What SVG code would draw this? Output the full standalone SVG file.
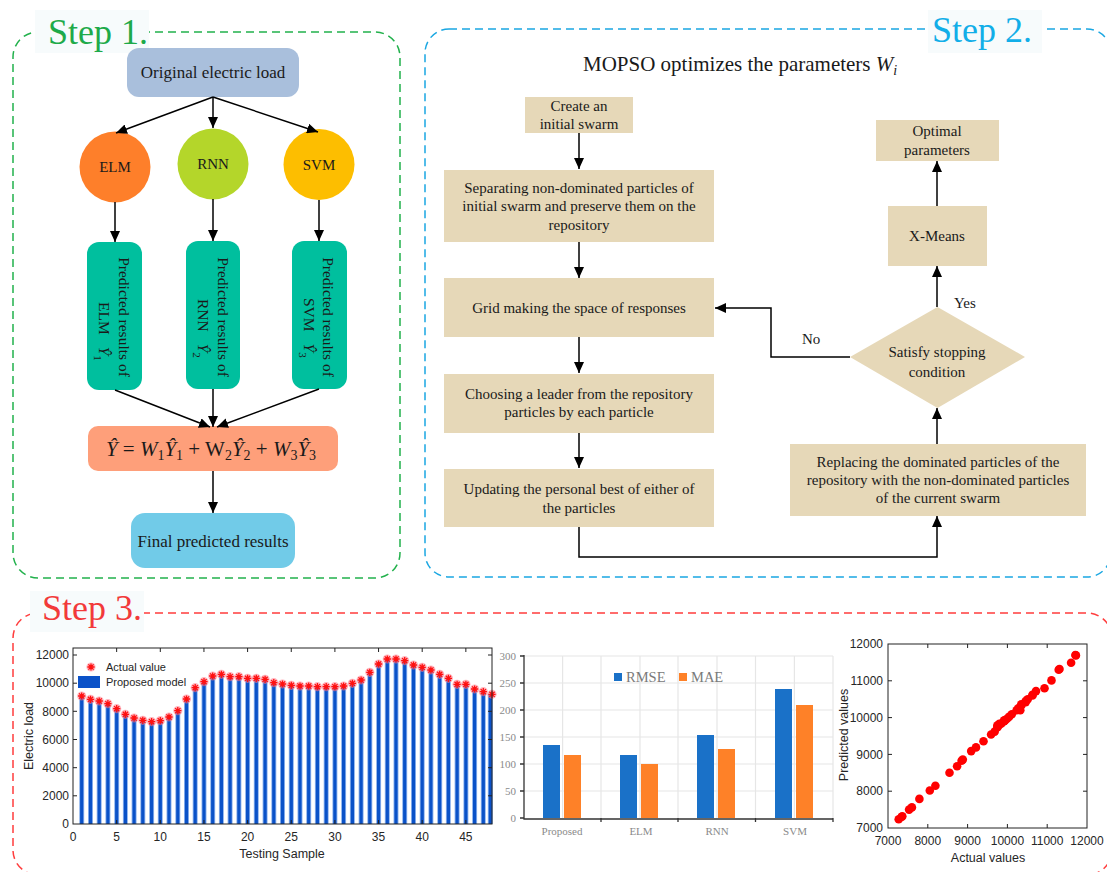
<svg xmlns="http://www.w3.org/2000/svg" xmlns:xlink="http://www.w3.org/1999/xlink" width="1107" height="872" viewBox="0 0 1107 872">
<defs>
<style>
.serif{font-family:"Liberation Serif","Times New Roman",serif;fill:#1a1a1a}
.sans{font-family:"Liberation Sans",Arial,sans-serif;fill:#262626}
.flow{fill:#e6d8b8}
.ft{font-family:"Liberation Serif","Times New Roman",serif;font-size:15px;fill:#1a1a1a;text-anchor:middle}
.conn{stroke:#000;stroke-width:1.5;fill:none}
.arr{marker-end:url(#ah)}
.lblbg{fill:#f7fbfc}
.grid{stroke:#e6e6e6;stroke-width:1.2;fill:none}
.ax{stroke:#222;stroke-width:1;fill:none}
.g2{font-family:"Liberation Serif","Times New Roman",serif;font-size:11px;fill:#8a8a8a}
</style>
<marker id="ah" markerUnits="userSpaceOnUse" markerWidth="11" markerHeight="10" refX="11" refY="5" orient="auto">
<path d="M0,0 L11,5 L0,10 z" fill="#000"/>
</marker>
<g id="st">
<circle r="4.6" fill="#ff7a8a" opacity="0.55"/>
<path d="M-3.6,0H3.6M0,-3.6V3.6M-2.6,-2.6L2.6,2.6M-2.6,2.6L2.6,-2.6" stroke="#ff1010" stroke-width="1.3"/>
</g>
</defs>
<rect width="1107" height="872" fill="#ffffff"/>

<!-- Frames -->
<g id="step1-frame">
<rect x="13" y="32" width="387" height="546" rx="25" fill="none" stroke="#22b14c" stroke-width="1.5" stroke-dasharray="8,5"/>
<rect class="lblbg" x="35" y="10" width="114" height="43"/>
<text x="48" y="44" font-family="Liberation Serif,serif" font-size="36" fill="#1eaa4a">Step 1.</text>
</g>
<g id="step2-frame">
<rect x="425" y="29" width="686" height="548" rx="24" fill="none" stroke="#1aa7e2" stroke-width="1.5" stroke-dasharray="8,5"/>
<rect class="lblbg" x="928" y="10" width="114" height="43"/>
<text x="932" y="42" font-family="Liberation Serif,serif" font-size="36" fill="#12aee8">Step 2.</text>
</g>
<g id="step3-frame">
<rect x="13" y="613" width="1099" height="262" rx="25" fill="none" stroke="#ff3d3d" stroke-width="1.5" stroke-dasharray="8,5"/>
<rect class="lblbg" x="30" y="591" width="114" height="41"/>
<text x="42" y="620" font-family="Liberation Serif,serif" font-size="36" fill="#f23a3a">Step 3.</text>
</g>

<!-- Step 1 nodes -->
<g id="orig">
<rect x="127" y="48" width="172" height="49" rx="12" fill="#a9bfdc"/>
<text class="serif" x="213" y="78" font-size="17" text-anchor="middle">Original electric load</text>
</g>
<g id="elm">
<circle cx="115" cy="167" r="35.5" fill="#fe7f2a"/>
<text class="serif" x="115" y="172" font-size="15" text-anchor="middle">ELM</text>
</g>
<g id="rnn">
<circle cx="213" cy="164" r="35.5" fill="#b4d62a"/>
<text class="serif" x="213" y="169" font-size="15" text-anchor="middle">RNN</text>
</g>
<g id="svm">
<circle cx="319" cy="164.5" r="35.5" fill="#fdbe00"/>
<text class="serif" x="319" y="169.5" font-size="15" text-anchor="middle">SVM</text>
</g>
<g id="pred-elm">
<rect x="87" y="242" width="55" height="148" rx="12" fill="#00bf9e"/>
<text class="serif" font-size="15.5" text-anchor="middle" transform="translate(119,317) rotate(90)">Predicted results of</text>
<text class="serif" font-size="15.5" transform="translate(99,302) rotate(90)">ELM<tspan font-style="italic" dx="12">Ŷ</tspan><tspan font-size="11" dy="5">1</tspan></text>
</g>
<g id="pred-rnn">
<rect x="186" y="241" width="54" height="148" rx="12" fill="#00bf9e"/>
<text class="serif" font-size="15.5" text-anchor="middle" transform="translate(218,317) rotate(90)">Predicted results of</text>
<text class="serif" font-size="15.5" transform="translate(198,299) rotate(90)">RNN<tspan font-style="italic" dx="12">Ŷ</tspan><tspan font-size="11" dy="5">2</tspan></text>
</g>
<g id="pred-svm">
<rect x="292" y="241" width="55" height="148" rx="12" fill="#00bf9e"/>
<text class="serif" font-size="15.5" text-anchor="middle" transform="translate(323,317) rotate(90)">Predicted results of</text>
<text class="serif" font-size="15.5" transform="translate(304,298) rotate(90)">SVM<tspan font-style="italic" dx="12">Ŷ</tspan><tspan font-size="11" dy="5">3</tspan></text>
</g>
<g id="formula">
<rect x="88" y="426" width="250" height="45" rx="10" fill="#fe9f7a"/>
<text class="serif" x="211" y="456" font-size="21" text-anchor="middle"><tspan font-style="italic">Ŷ</tspan> = <tspan font-style="italic">W</tspan><tspan font-size="14" dy="4">1</tspan><tspan font-style="italic" dy="-4">Ŷ</tspan><tspan font-size="14" dy="4">1</tspan><tspan dy="-4"> + </tspan><tspan>W</tspan><tspan font-size="14" dy="4">2</tspan><tspan font-style="italic" dy="-4">Ŷ</tspan><tspan font-size="14" dy="4">2</tspan><tspan dy="-4"> + </tspan><tspan font-style="italic">W</tspan><tspan font-size="14" dy="4">3</tspan><tspan font-style="italic" dy="-4">Ŷ</tspan><tspan font-size="14" dy="4">3</tspan></text>
</g>
<g id="final">
<rect x="131" y="513" width="164" height="55" rx="14" fill="#71cbe8"/>
<text class="serif" x="213" y="547" font-size="17" text-anchor="middle">Final predicted results</text>
</g>

<!-- Step 2 nodes -->
<g id="title2">
<text class="serif" x="583" y="71" font-size="21">MOPSO optimizes the parameters <tspan font-style="italic">W</tspan><tspan font-style="italic" font-size="14" dy="4">i</tspan></text>
</g>
<g id="create">
<rect class="flow" x="525" y="97" width="108" height="36"/>
<text class="ft" x="579" y="111">Create an</text>
<text class="ft" x="579" y="129">initial swarm</text>
</g>
<g id="separate">
<rect class="flow" x="444" y="170" width="270" height="72"/>
<text class="ft" x="579" y="193">Separating non-dominated particles of</text>
<text class="ft" x="579" y="211">initial swarm and preserve them on the</text>
<text class="ft" x="579" y="230">repository</text>
</g>
<g id="grid">
<rect class="flow" x="444" y="278" width="270" height="59"/>
<text class="ft" x="579" y="313">Grid making the space of responses</text>
</g>
<g id="choose">
<rect class="flow" x="444" y="374" width="270" height="59"/>
<text class="ft" x="579" y="399">Choosing a leader from the repository</text>
<text class="ft" x="579" y="417">particles by each particle</text>
</g>
<g id="update">
<rect class="flow" x="444" y="469" width="270" height="58"/>
<text class="ft" x="579" y="494">Updating the personal best of either of</text>
<text class="ft" x="579" y="513">the particles</text>
</g>
<g id="replace">
<rect class="flow" x="790" y="444" width="296" height="72"/>
<text class="ft" x="938" y="467">Replacing the dominated particles of the</text>
<text class="ft" x="938" y="485">repository with the non-dominated particles</text>
<text class="ft" x="938" y="503">of the current swarm</text>
</g>
<g id="decision">
<polygon class="flow" points="937.5,307 1025,357 937.5,408 850,357"/>
<text class="ft" x="937" y="357">Satisfy stopping</text>
<text class="ft" x="937" y="377">condition</text>
</g>
<g id="xmeans">
<rect class="flow" x="888" y="206" width="99" height="60"/>
<text class="ft" x="937" y="241">X-Means</text>
</g>
<g id="optimal">
<rect class="flow" x="876" y="120" width="123" height="41"/>
<text class="ft" x="937" y="136">Optimal</text>
<text class="ft" x="937" y="155">parameters</text>
</g>

<!-- Connectors -->
<g id="connectors">
<path class="conn arr" d="M213,97 L116,133"/>
<path class="conn arr" d="M213,97 L213,128"/>
<path class="conn arr" d="M213,97 L318,132"/>
<path class="conn arr" d="M115,202 L115,242"/>
<path class="conn arr" d="M213,199 L213,241"/>
<path class="conn arr" d="M319,200 L319,241"/>
<path class="conn arr" d="M115,390 L210,427"/>
<path class="conn arr" d="M213,389 L213,427"/>
<path class="conn arr" d="M319,389 L217,427"/>
<path class="conn arr" d="M213,471 L213,513"/>
<path class="conn arr" d="M579,133 L579,169"/>
<path class="conn arr" d="M579,242 L579,278"/>
<path class="conn arr" d="M579,337 L579,373"/>
<path class="conn arr" d="M579,433 L579,468"/>
<path class="conn arr" d="M579,527 L579,557 L937,557 L937,516"/>
<path class="conn arr" d="M937,444 L937,408"/>
<path class="conn arr" d="M850,357 L771,357 L771,308 L715,308"/>
<path class="conn arr" d="M937,307 L937,266"/>
<path class="conn arr" d="M937,206 L937,161"/>
<text class="serif" x="802" y="344" font-size="15">No</text>
<text class="serif" x="954" y="308" font-size="15">Yes</text>
</g>

<!-- Chart 1: stem plot -->
<g id="chart1">
<path d="M81.7 824V696M90.5 824V699.3M99.2 824V701M107.9 824V703.7M116.7 824V708.7M125.4 824V714.3M134.1 824V718M142.8 824V720.3M151.6 824V721.7M160.3 824V720.7M169 824V717M177.8 824V710.7M186.5 824V699M195.2 824V687.7M204 824V681.7M212.7 824V676M221.4 824V674.3M230.1 824V676.7M238.9 824V676.7M247.6 824V678.3M256.3 824V678.3M265.1 824V679.3M273.8 824V682.7M282.5 824V684M291.3 824V685.3M300 824V686M308.7 824V686M317.4 824V686.7M326.2 824V686.7M334.9 824V686.7M343.6 824V686M352.4 824V683.3M361.1 824V680M369.8 824V672.3M378.6 824V664M387.3 824V659M396 824V659M404.7 824V660.7M413.5 824V665M422.2 824V667.3M430.9 824V670M439.7 824V674.3M448.4 824V678.3M457.1 824V684.3M465.9 824V684.3M474.6 824V689M483.3 824V691.7M490.3 824V694.3" stroke="#8db3ee" stroke-width="5" fill="none"/>
<path d="M81.7 824V696M90.5 824V699.3M99.2 824V701M107.9 824V703.7M116.7 824V708.7M125.4 824V714.3M134.1 824V718M142.8 824V720.3M151.6 824V721.7M160.3 824V720.7M169 824V717M177.8 824V710.7M186.5 824V699M195.2 824V687.7M204 824V681.7M212.7 824V676M221.4 824V674.3M230.1 824V676.7M238.9 824V676.7M247.6 824V678.3M256.3 824V678.3M265.1 824V679.3M273.8 824V682.7M282.5 824V684M291.3 824V685.3M300 824V686M308.7 824V686M317.4 824V686.7M326.2 824V686.7M334.9 824V686.7M343.6 824V686M352.4 824V683.3M361.1 824V680M369.8 824V672.3M378.6 824V664M387.3 824V659M396 824V659M404.7 824V660.7M413.5 824V665M422.2 824V667.3M430.9 824V670M439.7 824V674.3M448.4 824V678.3M457.1 824V684.3M465.9 824V684.3M474.6 824V689M483.3 824V691.7M490.3 824V694.3" stroke="#0b52c8" stroke-width="3.2" fill="none"/>
<use xlink:href="#st" x="81.7" y="696"/><use xlink:href="#st" x="90.5" y="699.3"/><use xlink:href="#st" x="99.2" y="701"/><use xlink:href="#st" x="107.9" y="703.7"/><use xlink:href="#st" x="116.7" y="708.7"/><use xlink:href="#st" x="125.4" y="714.3"/><use xlink:href="#st" x="134.1" y="718"/><use xlink:href="#st" x="142.8" y="720.3"/><use xlink:href="#st" x="151.6" y="721.7"/><use xlink:href="#st" x="160.3" y="720.7"/><use xlink:href="#st" x="169" y="717"/><use xlink:href="#st" x="177.8" y="710.7"/><use xlink:href="#st" x="186.5" y="699"/><use xlink:href="#st" x="195.2" y="687.7"/><use xlink:href="#st" x="204" y="681.7"/><use xlink:href="#st" x="212.7" y="676"/><use xlink:href="#st" x="221.4" y="674.3"/><use xlink:href="#st" x="230.1" y="676.7"/><use xlink:href="#st" x="238.9" y="676.7"/><use xlink:href="#st" x="247.6" y="678.3"/><use xlink:href="#st" x="256.3" y="678.3"/><use xlink:href="#st" x="265.1" y="679.3"/><use xlink:href="#st" x="273.8" y="682.7"/><use xlink:href="#st" x="282.5" y="684"/><use xlink:href="#st" x="291.3" y="685.3"/><use xlink:href="#st" x="300" y="686"/><use xlink:href="#st" x="308.7" y="686"/><use xlink:href="#st" x="317.4" y="686.7"/><use xlink:href="#st" x="326.2" y="686.7"/><use xlink:href="#st" x="334.9" y="686.7"/><use xlink:href="#st" x="343.6" y="686"/><use xlink:href="#st" x="352.4" y="683.3"/><use xlink:href="#st" x="361.1" y="680"/><use xlink:href="#st" x="369.8" y="672.3"/><use xlink:href="#st" x="378.6" y="664"/><use xlink:href="#st" x="387.3" y="659"/><use xlink:href="#st" x="396" y="659"/><use xlink:href="#st" x="404.7" y="660.7"/><use xlink:href="#st" x="413.5" y="665"/><use xlink:href="#st" x="422.2" y="667.3"/><use xlink:href="#st" x="430.9" y="670"/><use xlink:href="#st" x="439.7" y="674.3"/><use xlink:href="#st" x="448.4" y="678.3"/><use xlink:href="#st" x="457.1" y="684.3"/><use xlink:href="#st" x="465.9" y="684.3"/><use xlink:href="#st" x="474.6" y="689"/><use xlink:href="#st" x="483.3" y="691.7"/><use xlink:href="#st" x="492" y="694.3"/>
<rect class="ax" x="73" y="648" width="419" height="176"/>
<path class="ax" d="M116.65 824v-4M160.3 824v-4M203.95 824v-4M247.6 824v-4M291.25 824v-4M334.9 824v-4M378.55 824v-4M422.2 824v-4M465.85 824v-4M116.65 648v4M160.3 648v4M203.95 648v4M247.6 648v4M291.25 648v4M334.9 648v4M378.55 648v4M422.2 648v4M465.85 648v4M73 795.8h4M73 767.7h4M73 739.5h4M73 711.3h4M73 683.2h4M73 655h4M492 795.8h-4M492 767.7h-4M492 739.5h-4M492 711.3h-4M492 683.2h-4M492 655h-4"/>
<g class="sans" font-size="12" text-anchor="end">
<text x="69" y="828">0</text><text x="69" y="800">2000</text><text x="69" y="772">4000</text><text x="69" y="743.5">6000</text><text x="69" y="715.5">8000</text><text x="69" y="687">10000</text><text x="69" y="659">12000</text>
</g>
<g class="sans" font-size="12" text-anchor="middle">
<text x="73" y="841">0</text><text x="116.65" y="841">5</text><text x="160.3" y="841">10</text><text x="203.95" y="841">15</text><text x="247.6" y="841">20</text><text x="291.25" y="841">25</text><text x="334.9" y="841">30</text><text x="378.55" y="841">35</text><text x="422.2" y="841">40</text><text x="465.85" y="841">45</text>
<text x="282" y="858" font-size="12.5">Testing Sample</text>
<text font-size="12.5" transform="translate(33,736) rotate(-90)">Electric load</text>
</g>
<use xlink:href="#st" x="91" y="667"/>
<text class="sans" x="106" y="671" font-size="11">Actual value</text>
<rect x="78" y="676" width="22" height="12" fill="#0b52c8"/>
<text class="sans" x="106" y="686" font-size="11">Proposed model</text>
</g>

<!-- Chart 2: bar chart -->
<g id="chart2">
<path class="grid" d="M524 656H833M524 683H833M524 710H833M524 737H833M524 764H833M524 791H833M562.6 656V818M601 656V818M640 656V818M678 656V818M717 656V818M755.5 656V818M794.4 656V818M833 656V818"/>
<rect x="543" y="745" width="17" height="73" fill="#1a71c8"/>
<rect x="564" y="755" width="17" height="63" fill="#fe8128"/>
<rect x="620" y="755" width="17" height="63" fill="#1a71c8"/>
<rect x="641" y="764" width="17" height="54" fill="#fe8128"/>
<rect x="697" y="735" width="17" height="83" fill="#1a71c8"/>
<rect x="718" y="749" width="17" height="69" fill="#fe8128"/>
<rect x="775" y="689" width="17" height="129" fill="#1a71c8"/>
<rect x="796" y="705" width="17" height="113" fill="#fe8128"/>
<path d="M524 655V819H833M601 818v4M678 818v4M755.5 818v4M833 818v4M520 656h4M520 683h4M520 710h4M520 737h4M520 764h4M520 791h4M520 818h4" stroke="#333" stroke-width="1.3" fill="none"/>
<g class="g2" text-anchor="end">
<text x="516" y="660">300</text><text x="516" y="687">250</text><text x="516" y="714">200</text><text x="516" y="741">150</text><text x="516" y="768">100</text><text x="516" y="795">50</text><text x="516" y="822">0</text>
</g>
<g class="g2" text-anchor="middle">
<text x="562" y="835">Proposed</text><text x="641" y="835">ELM</text><text x="717" y="835">RNN</text><text x="795" y="835">SVM</text>
</g>
<rect x="614" y="673" width="8" height="8" fill="#1a71c8"/>
<text x="626" y="682" font-family="Liberation Serif,serif" font-size="14.5" fill="#7a7a7a">RMSE</text>
<rect x="679" y="673" width="8" height="8" fill="#fe8128"/>
<text x="691" y="682" font-family="Liberation Serif,serif" font-size="14.5" fill="#7a7a7a">MAE</text>
</g>

<!-- Chart 3: scatter -->
<g id="chart3">
<g fill="#ff0000">
<circle cx="898.7" cy="819.2" r="4.3"/><circle cx="901.5" cy="817" r="4.3"/><circle cx="902.3" cy="816.2" r="4.3"/><circle cx="909.1" cy="809.6" r="4.3"/><circle cx="911.9" cy="807.4" r="4.3"/><circle cx="919.4" cy="798.9" r="4.3"/><circle cx="929.8" cy="790.5" r="4.3"/><circle cx="935.4" cy="785.7" r="4.3"/><circle cx="949.5" cy="772.8" r="4.3"/><circle cx="957.1" cy="766.2" r="4.3"/><circle cx="961.6" cy="760.7" r="4.3"/><circle cx="962.8" cy="759.6" r="4.3"/><circle cx="971.2" cy="751.1" r="4.3"/><circle cx="976" cy="747.4" r="4.3"/><circle cx="983.5" cy="741.3" r="4.3"/><circle cx="991.1" cy="734.5" r="4.3"/><circle cx="994.7" cy="731.6" r="4.3"/><circle cx="997.5" cy="727.2" r="4.3"/><circle cx="997.5" cy="726.4" r="4.3"/><circle cx="997.5" cy="725.3" r="4.3"/><circle cx="999.4" cy="724.6" r="4.3"/><circle cx="999.4" cy="723.9" r="4.3"/><circle cx="1001.4" cy="723.5" r="4.3"/><circle cx="1004.2" cy="721.3" r="4.3"/><circle cx="1004.2" cy="720.2" r="4.3"/><circle cx="1005.2" cy="720.2" r="4.3"/><circle cx="1007" cy="718.7" r="4.3"/><circle cx="1009" cy="716.9" r="4.3"/><circle cx="1011.8" cy="714.3" r="4.3"/><circle cx="1016.6" cy="710.2" r="4.3"/><circle cx="1018.3" cy="708.4" r="4.3"/><circle cx="1021.3" cy="705.5" r="4.3"/><circle cx="1021.3" cy="704.4" r="4.3"/><circle cx="1020.3" cy="710.2" r="4.3"/><circle cx="1025.7" cy="702.1" r="4.3"/><circle cx="1025.7" cy="701" r="4.3"/><circle cx="1027.7" cy="699.2" r="4.3"/><circle cx="1032.5" cy="695.5" r="4.3"/><circle cx="1032.5" cy="694.8" r="4.3"/><circle cx="1036" cy="691.1" r="4.3"/><circle cx="1044.5" cy="688.2" r="4.3"/><circle cx="1051.5" cy="680.4" r="4.3"/><circle cx="1058.7" cy="669.8" r="4.3"/><circle cx="1059.5" cy="669" r="4.3"/><circle cx="1071.1" cy="662.8" r="4.3"/><circle cx="1075.9" cy="655.4" r="4.3"/><circle cx="1075.4" cy="655" r="4.3"/>
</g>
<rect class="ax" x="888" y="644" width="199" height="184"/>
<path class="ax" d="M927.8 828v-4M967.6 828v-4M1007.4 828v-4M1047.2 828v-4M927.8 644v4M967.6 644v4M1007.4 644v4M1047.2 644v4M888 791.2h4M888 754.4h4M888 717.6h4M888 680.8h4M1087 791.2h-4M1087 754.4h-4M1087 717.6h-4M1087 680.8h-4"/>
<g class="sans" font-size="12" text-anchor="end">
<text x="883" y="832">7000</text><text x="883" y="795">8000</text><text x="883" y="758.5">9000</text><text x="883" y="721.5">10000</text><text x="883" y="685">11000</text><text x="883" y="648">12000</text>
</g>
<g class="sans" font-size="12" text-anchor="middle">
<text x="888" y="845">7000</text><text x="927.8" y="845">8000</text><text x="967.6" y="845">9000</text><text x="1007.4" y="845">10000</text><text x="1047.2" y="845">11000</text><text x="1087" y="845">12000</text>
<text x="988" y="862" font-size="12.5">Actual values</text>
<text font-size="12.5" transform="translate(848,735) rotate(-90)">Predicted values</text>
</g>
</g>
</svg>
